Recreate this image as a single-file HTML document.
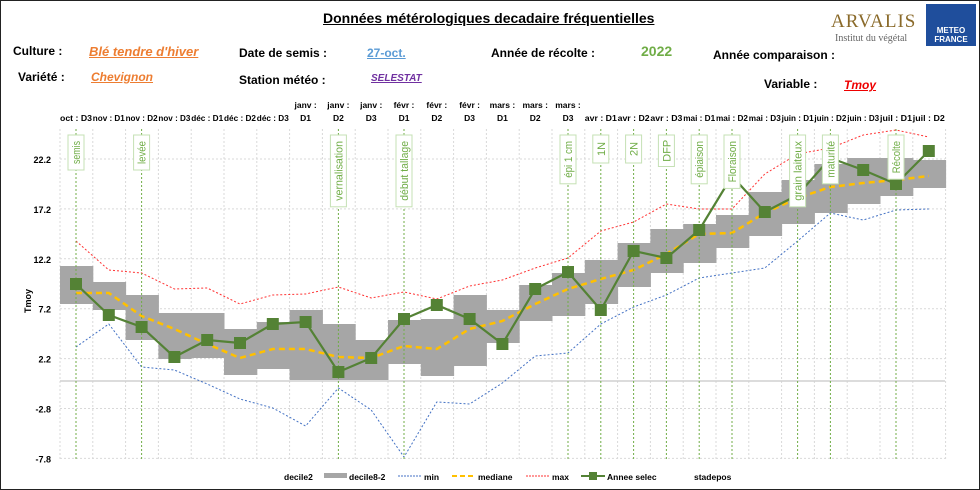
<!DOCTYPE html>
<html><head><meta charset="utf-8"><style>
body{margin:0;background:#fff;}
#w{position:relative;width:978px;height:488px;border:1px solid #222;overflow:hidden;font-family:"Liberation Sans",Arial,sans-serif;}
.t{position:absolute;font-size:12px;font-weight:bold;white-space:nowrap;color:#000;}
</style></head><body><div id="w">
<div class="t" style="left:322px;top:9px;font-size:14px;text-decoration:underline;">Données métérologiques decadaire fréquentielles</div>
<div class="t" style="left:12px;top:43px;">Culture :</div>
<div class="t" style="left:88px;top:43px;color:#ed7d31;font-style:italic;text-decoration:underline;font-size:13px;">Blé tendre d'hiver</div>
<div class="t" style="left:238px;top:45px;">Date de semis :</div>
<div class="t" style="left:366px;top:45px;color:#5b9bd5;text-decoration:underline;">27-oct.</div>
<div class="t" style="left:490px;top:45px;">Année de récolte :</div>
<div class="t" style="left:640px;top:42px;color:#70ad47;font-size:14px;">2022</div>
<div class="t" style="left:712px;top:47px;">Année comparaison :</div>
<div class="t" style="left:17px;top:69px;">Variété :</div>
<div class="t" style="left:90px;top:69px;color:#ed7d31;font-style:italic;text-decoration:underline;">Chevignon</div>
<div class="t" style="left:238px;top:72px;">Station météo :</div>
<div class="t" style="left:370px;top:72px;color:#7030a0;font-style:italic;text-decoration:underline;font-size:10px;">SELESTAT</div>
<div class="t" style="left:763px;top:76px;">Variable :</div>
<div class="t" style="left:843px;top:77px;color:#e00;font-style:italic;text-decoration:underline;">Tmoy</div>
<div style="position:absolute;left:830px;top:10px;font-family:'Liberation Serif',serif;color:#8a6a2a;font-size:19px;letter-spacing:1px;">ARVALIS</div>
<div style="position:absolute;left:834px;top:32px;font-family:'Liberation Serif',serif;color:#666;font-size:10px;">Institut du végétal</div>
<div style="position:absolute;left:925px;top:3px;width:50px;height:42px;background:#1f4e9c;color:#fff;font-size:8px;font-weight:bold;text-align:center;line-height:9px;padding-top:22px;box-sizing:border-box;">METEO<br>FRANCE</div>
<svg id="s" width="980" height="490" style="position:absolute;left:0;top:0"></svg>
</div>
<script>
const X=i=>75+i*32.8;
let h='';
for(let k=0;k<7;k++){let y=158+k*49.9;h+=`<line x1="59" x2="944" y1="${y}" y2="${y}" stroke="#d9d9d9" stroke-dasharray="2,2"/>`;
h+=`<text x="50" y="${y+4}" text-anchor="end" font-size="9" font-weight="bold">${(22.2-5*k).toFixed(1)}</text>`;}
for(let i=0;i<=27;i++){let x=59+i*32.8;h+=`<line x1="${x}" x2="${x}" y1="128" y2="460" stroke="#d9d9d9" stroke-dasharray="2,2"/>`;}
h+=`<line x1="59" x2="944" y1="380" y2="380" stroke="#d0d0d0" stroke-width="1.5"/>`;
h+=`<text transform="translate(30,300) rotate(-90)" text-anchor="middle" font-size="9" font-weight="bold">Tmoy</text>`;
const band=[[265,303],[281,309],[294,339],[312,358],[312,357],[328,374],[321,368],[309,379],[323,379],[339,379],[319,363],[318,375],[294,365],[309,342],[284,320],[272,315],[259,303],[242,286],[228,272],[223,262],[214,247],[191,235],[179,223],[163,212],[157,203],[157,195],[159,187]];
band.forEach((b,i)=>{h+=`<rect x="${59+i*32.8}" y="${b[0]}" width="33.3" height="${b[1]-b[0]}" fill="#a6a6a6"/>`;});
const pl=(a,st)=>`<polyline fill="none" ${st} points="${a.map((y,i)=>X(i)+','+y).join(' ')}"/>`;
const mx=[240,269,272,288,287,303,294,293,286,297,291,298,285,279,267,257,230,221,203,208,208,173,153,147,134,129,136];
const mn=[346,323,366,369,383,398,407,425,387,409,456,401,403,382,355,352,323,306,294,277,272,267,240,212,219,209,208];
const md=[292,292,315,328,343,357,348,348,356,357,345,348,328,320,303,288,278,269,253,233,232,212,197,186,182,179,175];
const an=[283,314,326,356,339,342,323,321,371,357,318,304,318,343,288,271,309,250,257,229,175,211,194,157,169,183,150];
h+=pl(mx,'stroke="#ff3333" stroke-width="1" stroke-dasharray="2,2"');
h+=pl(mn,'stroke="#4472c4" stroke-width="1" stroke-dasharray="2,2"');
h+=pl(md,'stroke="#ffc000" stroke-width="2.5" stroke-dasharray="6,4"');
const st=[[0,'semis'],[2,'levée'],[8,'vernalisation'],[10,'début tallage'],[15,'épi 1 cm'],[16,'1N'],[17,'2N'],[18,'DFP'],[19,'épiaison'],[20,'Floraison'],[22,'grain laiteux'],[23,'maturité'],[25,'Récolte']];
st.forEach(([i,t])=>{let x=X(i);h+=`<line x1="${x}" x2="${x}" y1="128" y2="460" stroke="#70ad47" stroke-dasharray="2,2"/>`;});
h+=pl(an,'stroke="#548235" stroke-width="2.2"');
an.forEach((y,i)=>{h+=`<rect x="${X(i)-6}" y="${y-6}" width="12" height="12" fill="#548235"/>`;});
st.forEach(([i,t])=>{let x=X(i),long=t.length>4,tl=long?t.length*4.6:t.length*6.5,L=Math.max(tl+12,28);h+=`<rect x="${x-8}" y="134" width="16" height="${L}" fill="#fff" stroke="#c5e0b4"/>`;
h+=`<text transform="translate(${x+4},${134+L/2}) rotate(-90)" text-anchor="middle" font-size="11" fill="#70ad47" ${long?`textLength="${tl}" lengthAdjust="spacingAndGlyphs"`:''}>${t}</text>`;});
const lab=['oct : D3','nov : D1','nov : D2','nov : D3','déc : D1','déc : D2','déc : D3','janv :|D1','janv :|D2','janv :|D3','févr :|D1','févr :|D2','févr :|D3','mars :|D1','mars :|D2','mars :|D3','avr : D1','avr : D2','avr : D3','mai : D1','mai : D2','mai : D3','juin : D1','juin : D2','juin : D3','juil : D1','juil : D2'];
lab.forEach((l,i)=>{let p=l.split('|');if(p.length>1){h+=`<text x="${X(i)}" y="107" text-anchor="middle" font-size="8.5" font-weight="bold">${p[0]}</text><text x="${X(i)}" y="120" text-anchor="middle" font-size="8.5" font-weight="bold">${p[1]}</text>`;}
else h+=`<text x="${X(i)}" y="120" text-anchor="middle" font-size="8.5" font-weight="bold" textLength="32" lengthAdjust="spacingAndGlyphs">${l}</text>`;});
const lt=(x,t)=>`<text x="${x}" y="479" font-size="8.5" font-weight="bold">${t}</text>`;
h+=lt(283,'decile2')+`<rect x="323" y="472" width="23" height="5" fill="#a6a6a6"/>`+lt(348,'decile8-2');
h+=`<line x1="397" x2="421" y1="475" y2="475" stroke="#4472c4" stroke-dasharray="2,1"/>`+lt(423,'min');
h+=`<line x1="451" x2="474" y1="475" y2="475" stroke="#ffc000" stroke-width="2" stroke-dasharray="5,3"/>`+lt(477,'mediane');
h+=`<line x1="525" x2="548" y1="475" y2="475" stroke="#ff3333" stroke-dasharray="2,1"/>`+lt(551,'max');
h+=`<line x1="580" x2="604" y1="475" y2="475" stroke="#548235" stroke-width="2"/><rect x="588" y="471" width="8" height="8" fill="#548235"/>`+lt(606,'Annee selec');
h+=lt(693,'stadepos');
document.getElementById('s').innerHTML=h;
</script></body></html>
